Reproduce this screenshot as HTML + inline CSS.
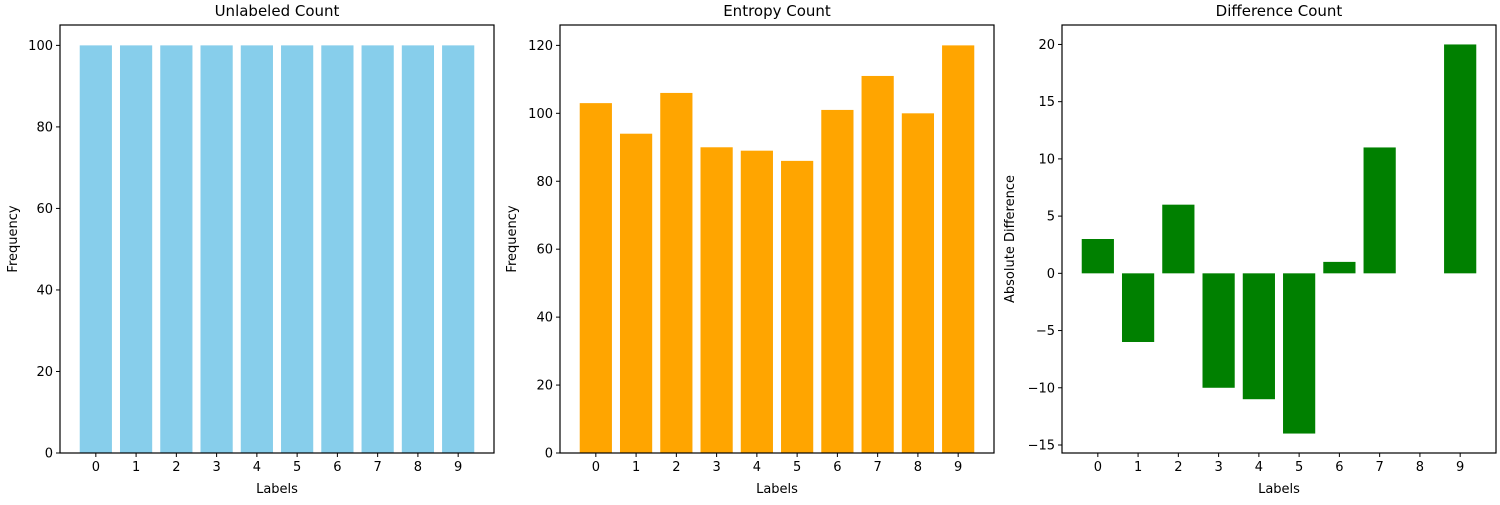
<!DOCTYPE html>
<html><head><meta charset="utf-8"><style>
body{margin:0;background:#fff;font-family:"Liberation Sans","DejaVu Sans",sans-serif}
text{font-family:"DejaVu Sans","Liberation Sans",sans-serif;fill:#000}
</style></head><body>
<svg id="c" width="1500" height="500"></svg>
<script>
const categories=[0,1,2,3,4,5,6,7,8,9];
const unlabeledValues=[100,100,100,100,100,100,100,100,100,100];
const entropyValues=[103,94,106,90,89,86,101,111,100,120];
const differenceValues=[3,-6,6,-10,-11,-14,1,11,0,20];
const ticks1=[0,20,40,60,80,100];
const ticks2=[0,20,40,60,80,100,120];
const ticks3=[-15,-10,-5,0,5,10,15,20];
const svg=document.getElementById('c');
const NS='http://www.w3.org/2000/svg';
function mk(t,a,txt){const e=document.createElementNS(NS,t);for(const k in a)e.setAttribute(k,a[k]);if(txt!==undefined)e.textContent=txt;svg.appendChild(e);return e;}
function panel(p){
  const L=p.left,T=25,W=434,H=428,B=T+H;
  const xmin=-0.89,xmax=9.89;
  const xs=v=>L+(v-xmin)/(xmax-xmin)*W;
  const ys=v=>B-(v-p.ymin)/(p.ymax-p.ymin)*H;
  p.values.forEach((v,i)=>{
    const x0=xs(categories[i]-0.4),x1=xs(categories[i]+0.4);
    const y0=ys(0),y1=ys(v);
    const r=mk('rect',{x:x0,y:Math.min(y0,y1),width:x1-x0,height:Math.abs(y1-y0),fill:p.color});
    
    
  });
  const f=mk('rect',{x:L,y:T,width:W,height:H,fill:'none',stroke:'#000','stroke-width':1.2});
  
  
  categories.forEach(c=>{
    const x=xs(c);
    mk('line',{x1:x,x2:x,y1:B,y2:B+4,stroke:'#000'});
    const t=mk('text',{x:x,y:B+18,'text-anchor':'middle','font-size':13},String(c));
    
    
  });
  p.ticks.forEach(v=>{
    const y=ys(v);
    mk('line',{x1:L-4,x2:L,y1:y,y2:y,stroke:'#000'});
    const t=mk('text',{x:L-7,y:y+4.5,'text-anchor':'end','font-size':13},String(v).replace('-','\u2212'));
    
    
  });
  const tt=mk('text',{x:L+W/2,y:T-9,'text-anchor':'middle','font-size':15},p.title);
  
  
  const xl=mk('text',{x:L+W/2,y:493,'text-anchor':'middle','font-size':13},'Labels');
  
  
  const yx=p.yLabelX,yy=T+H/2;
  const yl=mk('text',{x:yx,y:yy,'text-anchor':'middle','font-size':13,transform:`rotate(-90 ${yx} ${yy})`},p.ylabel);
  
  
}
panel({id:'unlabeled',left:60,values:unlabeledValues,ymin:0,ymax:105,ticks:ticks1,color:'#87ceeb',title:'Unlabeled Count',ylabel:'Frequency',yLabelX:17});
panel({id:'entropy',left:560,values:entropyValues,ymin:0,ymax:126,ticks:ticks2,color:'#ffa500',title:'Entropy Count',ylabel:'Frequency',yLabelX:516});
panel({id:'difference',left:1062,values:differenceValues,ymin:-15.7,ymax:21.7,ticks:ticks3,color:'#008000',title:'Difference Count',ylabel:'Absolute Difference',yLabelX:1014});
</script>
</body></html>
